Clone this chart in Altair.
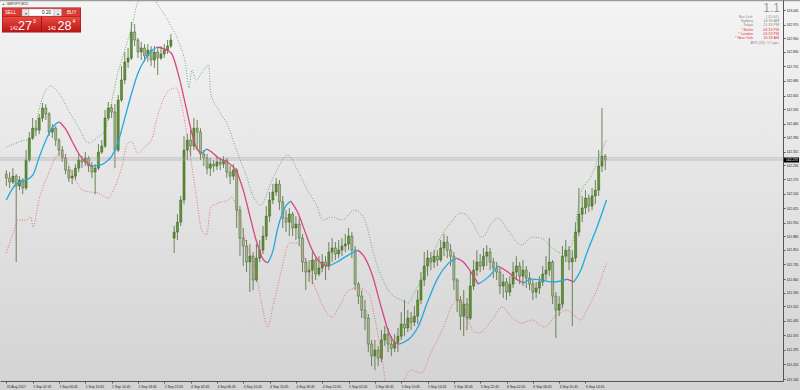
import altair as alt
import pandas as pd

# ---------------- data (GBPJPY M15, one candle per 30 min) ----------------
closes = [142.180,142.160,142.190,142.139,142.170,142.129,142.273,142.386,142.437,142.427,
          142.489,142.541,142.510,142.417,142.437,142.376,142.324,142.283,142.221,142.180,
          142.190,142.231,142.273,142.263,142.283,142.242,142.211,142.231,142.314,142.345,
          142.489,142.541,142.520,142.324,142.582,142.685,142.778,142.798,142.932,142.891,
          142.829,142.850,142.809,142.839,142.788,142.829,142.798,142.819,142.839,142.860,
          142.891,141.902,141.953,142.067,142.324,142.376,142.345,142.437,142.417,142.304,
          142.283,142.231,142.252,142.242,142.263,142.252,142.273,142.211,142.190,142.221,
          142.015,141.871,141.830,141.748,141.778,141.655,141.768,141.809,141.881,141.984,
          142.067,142.108,142.149,142.057,141.974,141.953,141.994,141.923,141.943,141.871,
          141.748,141.696,141.706,141.758,141.686,141.717,141.748,141.727,141.799,141.820,
          141.789,141.809,141.830,141.840,141.881,141.809,141.634,141.572,141.500,141.459,
          141.325,141.264,141.294,141.253,141.346,141.376,141.325,141.304,141.335,141.366,
          141.428,141.408,141.459,141.438,141.469,141.552,141.655,141.727,141.768,141.748,
          141.778,141.758,141.820,141.850,141.809,141.778,141.655,141.552,141.469,141.531,
          141.459,141.624,141.706,141.748,141.727,141.778,141.799,141.748,141.717,141.696,
          141.624,141.645,141.593,141.634,141.696,141.727,141.675,141.706,141.665,141.634,
          141.593,141.614,141.645,141.686,141.706,141.748,141.572,141.500,141.531,141.778,
          141.809,141.748,141.768,141.902,141.994,142.026,142.077,142.036,142.088,142.118,
          142.242,142.293,142.273]
highs = [142.221,142.211,142.231,142.200,142.190,142.180,142.324,142.417,142.489,142.479,
         142.510,142.567,142.561,142.520,142.458,142.448,142.386,142.345,142.304,142.242,
         142.221,142.252,142.304,142.293,142.314,142.293,142.263,142.252,142.355,142.376,
         142.530,142.572,142.561,142.561,142.608,142.757,142.829,142.850,142.984,142.973,
         142.901,142.881,142.870,142.870,142.860,142.860,142.850,142.860,142.870,142.891,
         142.922,141.933,141.994,142.088,142.396,142.407,142.427,142.489,142.479,142.437,
         142.324,142.304,142.283,142.273,142.293,142.283,142.293,142.283,142.242,142.252,
         142.231,142.036,141.923,141.861,141.840,141.799,141.840,141.861,141.933,142.036,
         142.108,142.149,142.180,142.170,142.088,142.015,142.026,142.005,141.984,141.974,
         141.892,141.768,141.758,141.799,141.768,141.778,141.789,141.778,141.850,141.871,
         141.850,141.861,141.871,141.892,141.923,141.902,141.830,141.645,141.603,141.552,
         141.480,141.346,141.346,141.315,141.397,141.418,141.408,141.366,141.376,141.408,
         141.490,141.552,141.500,141.490,141.521,141.603,141.696,141.799,141.809,141.799,
         141.809,141.809,141.861,141.892,141.881,141.840,141.799,141.665,141.572,141.603,
         141.562,141.696,141.758,141.809,141.789,141.820,141.835,141.820,141.768,141.748,
         141.717,141.686,141.665,141.675,141.748,141.778,141.748,141.758,141.727,141.696,
         141.655,141.645,141.675,141.727,141.778,141.871,141.758,141.593,141.572,141.830,
         141.861,141.830,141.809,141.953,142.129,142.088,142.118,142.097,142.129,142.170,
         142.324,142.541,142.304]
lows = [142.139,142.129,142.149,141.748,142.118,142.097,142.118,142.263,142.376,142.396,
        142.406,142.469,142.479,142.396,142.386,142.345,142.293,142.263,142.200,142.160,
        142.149,142.170,142.211,142.231,142.242,142.211,142.180,142.097,142.221,142.304,
        142.335,142.479,142.489,142.231,142.314,142.572,142.664,142.747,142.788,142.860,
        142.798,142.788,142.778,142.778,142.757,142.747,142.711,142.788,142.798,142.819,
        142.850,141.794,141.861,141.933,142.046,142.273,142.293,142.324,142.324,142.273,
        142.242,142.200,142.190,142.211,142.221,142.221,142.231,142.180,142.149,142.170,
        141.923,141.778,141.727,141.696,141.593,141.603,141.645,141.748,141.789,141.861,
        141.953,142.046,142.088,142.015,141.923,141.902,141.881,141.881,141.861,141.830,
        141.696,141.603,141.645,141.634,141.655,141.675,141.696,141.655,141.706,141.748,
        141.758,141.768,141.778,141.799,141.809,141.768,141.603,141.531,141.459,141.397,
        141.284,141.212,141.191,141.212,141.232,141.315,141.284,141.263,141.284,141.284,
        141.346,141.366,141.387,141.397,141.418,141.428,141.531,141.624,141.675,141.706,
        141.717,141.727,141.748,141.778,141.768,141.727,141.603,141.490,141.397,141.366,
        141.397,141.449,141.603,141.675,141.696,141.706,141.727,141.706,141.665,141.655,
        141.583,141.562,141.552,141.572,141.614,141.655,141.634,141.624,141.614,141.603,
        141.552,141.562,141.583,141.624,141.655,141.675,141.531,141.356,141.469,141.510,
        141.748,141.706,141.418,141.748,141.881,141.953,141.994,142.005,142.015,142.046,
        142.088,142.211,142.221]
gap_opens = {0: 142.200, 51: 141.871}   # first bar and Monday gap; other opens = previous close

# moving average (colour by segment: b = rising/blue, p = falling/pink)
ma_k = [0.0,3.0,6.0,8.1,9.9,12.9,15.0, 16.2,18.0,20.1,21.9,24.0,
        26.1,28.5,30.3,32.1,33.9,36.0,38.1,39.9,42.0,44.1,
        45.9,48.0,50.1,52.5,54.6,56.4,57.9, 59.4,
        60.9,62.4,64.5,67.5,69.9,72.0,74.1,75.9,78.0,
        79.5,81.0,82.5,84.6, 86.4,88.5,90.6,92.4,94.5,96.6,
        98.1,100.5,102.9,105.0, 106.8,108.6,111.0,114.0,116.1,117.9,
        119.4,121.5,123.0,125.1,128.1,131.1,134.1, 136.8,138.9,141.0,
        143.4,146.4, 149.4,152.4,155.4, 157.2,159.6,162.6,165.6,168.6,
        170.4, 172.5,174.6,176.4,179.4,182.4]
ma_p = [142.067,142.149,142.170,142.196,142.283,142.407,142.458,
        142.469,142.433,142.366,142.309,142.263,
        142.242,142.247,142.263,142.294,142.361,142.489,142.618,142.716,142.788,142.834,
        142.855,142.845,142.824,142.700,142.546,142.412,142.330,
        142.309,
        142.330,142.314,142.283,142.258,142.216,142.118,141.979,141.861,141.763,
        141.743,141.804,141.923,142.026,
        142.062,142.005,141.912,141.830,141.763,141.732,
        141.727,141.748,141.773,141.794,
        141.809,141.779,141.691,141.511,141.392,141.336,
        141.325,141.341,141.361,141.413,141.547,141.665,141.737,
        141.768,141.748,141.701,
        141.634,141.670,
        141.727,141.696,141.655,
        141.640,141.660,141.655,141.645,141.650,
        141.660,
        141.645,141.706,141.794,141.923,142.067]
ma_col = ("b" * 7 + "p" * 5 + "b" * 10 + "p" * 7 + "b" * 1 + "p" * 9 + "b" * 4 + "p" * 6 +
          "b" * 4 + "p" * 6 + "b" * 7 + "p" * 3 + "b" * 2 + "p" * 3 + "b" * 5 + "p" * 1 + "b" * 5)

up_k = [0.0,3.9,8.1,9.9,12.0,13.5,15.9,18.9,21.9,24.9,27.9,30.0,32.1,33.9,36.0,38.1,39.9,42.9,46.5,49.5,
        52.5,54.6,55.5,56.4,57.6,59.4,61.5,62.1,64.5,67.5,69.6,72.6,75.6,77.4,80.4,83.4,85.5,88.5,91.5,94.5,
        96.0,99.0,102.0,105.9,108.9,111.9,116.1,120.0,122.1,123.9,128.1,132.0,135.0,138.0,139.8,141.6,144.6,147.6,149.4,152.4,
        156.6,159.6,162.6,165.6,168.6,171.6,174.6,177.6,180.6,182.4]
up_p = [142.340,142.366,142.391,142.530,142.633,142.654,142.618,142.530,142.443,142.361,
        142.391,142.427,142.582,142.721,142.839,142.958,143.082,143.138,143.061,142.979,
        142.876,142.752,142.644,142.737,142.685,142.721,142.762,142.618,142.530,142.443,
        142.340,142.206,142.067,142.041,142.155,142.258,142.299,142.221,142.118,142.031,
        141.964,141.979,141.964,142.015,141.964,141.773,141.603,141.552,141.537,141.588,
        141.722,141.876,141.949,142.000,141.990,141.949,141.876,141.949,141.974,141.912,
        141.835,141.876,141.871,141.825,141.794,141.825,142.103,142.185,142.309,142.376]
lo_k = [0.0,2.1,3.6,6.0,7.5,8.1,9.9,12.9,15.0,16.5,18.6,21.0,23.1,25.5,27.9,30.9,33.0,35.1,36.9,38.1,
        39.9,42.0,44.1,45.9,48.0,49.5,51.6,53.4,55.5,57.6,59.4,60.9,62.1,64.5,67.5,68.4,70.5,72.9,75.6,77.4,
        79.5,81.0,83.4,86.1,88.5,91.5,94.5,96.9,99.0,101.1,104.1,107.1,110.1,111.9,114.0,115.5,118.5,120.9,123.0,126.0,
        129.0,132.9,135.9,138.0,139.8,141.6,143.4,147.6,150.6,153.6,156.6,159.6,163.5,166.5,170.4,172.5,174.6,176.4,179.4,182.4]
lo_p = [141.794,141.897,141.964,141.964,141.979,141.928,142.067,142.206,142.288,142.309,
        142.258,142.170,142.118,142.108,142.103,142.077,142.134,142.237,142.361,142.366,
        142.309,142.340,142.376,142.494,142.597,142.633,142.644,142.546,142.340,142.103,
        141.912,141.887,142.031,142.052,142.067,142.082,142.000,141.846,141.722,141.552,
        141.413,141.516,141.691,141.846,141.846,141.722,141.588,141.500,141.464,141.516,
        141.603,141.614,141.588,141.464,141.279,141.114,141.063,141.140,141.191,141.176,
        141.279,141.413,141.536,141.552,141.485,141.397,141.382,141.449,141.516,141.464,
        141.433,141.449,141.413,141.464,141.500,141.474,141.449,141.500,141.603,141.742]

tick_labels = ["31 Aug 2017", "1 Sep 02:45", "1 Sep 06:45", "1 Sep 10:45", "1 Sep 14:45",
               "1 Sep 18:45", "1 Sep 22:45", "4 Sep 02:45", "4 Sep 06:45", "4 Sep 10:45",
               "4 Sep 14:45", "4 Sep 18:45", "4 Sep 22:45", "5 Sep 02:45", "5 Sep 06:45",
               "5 Sep 10:45", "5 Sep 14:45", "5 Sep 18:45", "5 Sep 22:45", "6 Sep 02:45",
               "6 Sep 06:45", "6 Sep 10:45", "6 Sep 14:45"]
tick_k = [8 * i for i in range(len(tick_labels))]
price_ticks = [143.045, 142.970, 142.900, 142.830, 142.755, 142.680, 142.605, 142.535, 142.460,
               142.390, 142.315, 142.245, 142.175, 142.100, 142.025, 141.950, 141.880, 141.810,
               141.735, 141.660, 141.590, 141.520, 141.445, 141.370, 141.295, 141.220, 141.145]
bid, ask = 142.273, 142.284

info_labels = ["Bar Left:", "Sydney", "Tokyo", "* Berlin", "* London", "* New York"]
info_values = ["[ 11:04 ]", "10:33 AM", "11:33 PM", "04:33 PM", "03:33 PM", "10:33 AM"]

# ---------------- build tables ----------------
n = len(closes)
assert len(highs) == n and len(lows) == n
assert len(ma_k) == len(ma_p) == len(ma_col)
assert len(up_k) == len(up_p) and len(lo_k) == len(lo_p)
opens = [gap_opens.get(i, closes[i - 1] if i else closes[0]) for i in range(n)]
cdf = pd.DataFrame({"k": list(range(n)), "o": opens, "c": closes, "h": highs, "l": lows})
cdf["h"] = cdf[["h", "o", "c"]].max(axis=1)
cdf["l"] = cdf[["l", "o", "c"]].min(axis=1)
cdf["dir"] = ["up" if c >= o else "dn" for o, c in zip(cdf["o"], cdf["c"])]

rows = []
seg = 0
start = 0
for i in range(1, len(ma_k)):
    if i == len(ma_k) - 1 or ma_col[i] != ma_col[start]:
        for j in range(start, i + 1):
            rows.append({"k": ma_k[j], "p": ma_p[j], "seg": seg, "col": ma_col[start]})
        seg += 1
        start = i
madf = pd.DataFrame(rows)
updf = pd.DataFrame({"k": up_k, "p": up_p})
lodf = pd.DataFrame({"k": lo_k, "p": lo_p})

W, H = 783, 381
xs = alt.Scale(domain=[-0.4, 234.5], nice=False, zero=False)
ys = alt.Scale(domain=[141.135, 143.097], nice=False, zero=False)
FONT = "Liberation Sans"

label_expr = "[" + ",".join("'%s'" % s for s in tick_labels) + "][round(datum.value/8)]"
xaxis = alt.Axis(values=tick_k, labelExpr=label_expr, orient="bottom", labelAlign="left",
                 labelFontSize=3.4, labelColor="#222", labelFont=FONT, tickSize=2,
                 tickColor="#555", domainColor="#555", domainWidth=1, grid=False, title=None,
                 labelPadding=1.2, labelOverlap=False, labelFlush=False, labelBound=False, zindex=2)
yaxis = alt.Axis(orient="right", values=price_ticks, format=".3f", labelFontSize=3.3,
                 labelColor="#222", labelFont=FONT, tickSize=2, tickColor="#555",
                 domainColor="#555", domainWidth=1, grid=False, title=None, labelPadding=1,
                 labelOverlap=False, labelBaseline="middle", labelBound=False, zindex=2)

one = pd.DataFrame({"a": [0]})


def txt(s, x, y, size=4.5, color="#888", align="left", weight="normal"):
    return alt.Chart(one).mark_text(text=s, align=align, baseline="alphabetic", fontSize=size,
                                    color=color, fontWeight=weight, font=FONT).encode(
        x=alt.value(x), y=alt.value(y))


def box(x, y, x2, y2, fill, stroke=None, sw=0.5):
    kw = {"fill": fill}
    if stroke:
        kw.update(stroke=stroke, strokeWidth=sw)
    return alt.Chart(one).mark_rect(**kw).encode(
        x=alt.value(x), x2=alt.value(x2), y=alt.value(y), y2=alt.value(y2))


bg = alt.Chart(one).mark_rect(
    fill=alt.Gradient(gradient="linear", x1=0, x2=0, y1=0, y2=1,
                      stops=[alt.GradientStop(color="#f4f4f4", offset=0),
                             alt.GradientStop(color="#d3d3d3", offset=1)])).encode(
    x=alt.value(0), x2=alt.value(800), y=alt.value(0), y2=alt.value(390))

topline = box(0, 0, 800, 1.2, "#9a9a9a")

X = lambda f: alt.X(f, scale=xs, axis=xaxis)
Y = lambda f: alt.Y(f, scale=ys, axis=yaxis)

pricelines = alt.Chart(pd.DataFrame({"p": [bid, ask]})).mark_rule(
    color="#a2a2a2", strokeWidth=0.6).encode(y=Y("p:Q"))

wicks = alt.Chart(cdf).mark_rule(color="#3b5a1e", strokeWidth=0.7, clip=True).encode(
    x=X("k:Q"), y=Y("l:Q"), y2="h:Q")

bodies = alt.Chart(cdf).mark_bar(size=2.1, stroke="#2c4712", strokeWidth=0.4, clip=True).encode(
    x=X("k:Q"), y=Y("o:Q"), y2="c:Q",
    fill=alt.Fill("dir:N", scale=alt.Scale(domain=["up", "dn"], range=["#5f9431", "#a6b890"]),
                  legend=None))

upper = alt.Chart(updf).mark_line(color="#4e9a52", strokeWidth=0.8, strokeDash=[1, 1.6],
                                  interpolate="monotone", clip=True).encode(
    x=X("k:Q"), y=Y("p:Q"))
lower = alt.Chart(lodf).mark_line(color="#e4545a", strokeWidth=0.8, strokeDash=[1, 1.6],
                                  interpolate="monotone", clip=True).encode(
    x=X("k:Q"), y=Y("p:Q"))

ma = alt.Chart(madf).mark_line(strokeWidth=1.3, interpolate="monotone", clip=True).encode(
    x=X("k:Q"), y=Y("p:Q"),
    color=alt.Color("col:N", scale=alt.Scale(domain=["b", "p"], range=["#22a8e0", "#d8477c"]),
                    legend=None),
    detail="seg:N")

pdf = pd.DataFrame({"p": [bid], "lab": ["%.3f" % bid]})
plabel_bg = alt.Chart(pdf).mark_tick(orient="horizontal", size=15, thickness=5,
                                      color="#000000", opacity=1).encode(
    x=alt.value(791.5), y=Y("p:Q"))
plabel = alt.Chart(pdf).mark_text(align="left", baseline="middle", color="white",
                                  fontSize=3.3, font=FONT).encode(
    x=alt.value(786), y=Y("p:Q"), text="lab:N")

# top-left one-click trading panel
redgrad = alt.Gradient(gradient="linear", x1=0, x2=0, y1=0, y2=1,
                       stops=[alt.GradientStop(color="#ea4a40", offset=0),
                              alt.GradientStop(color="#b81616", offset=1)])
panel = [
    txt("▲", 2, 4.5, size=3, color="#444"),
    txt("GBPJPY,M15", 6.5, 4.6, size=3.6, color="#333"),
    box(2, 7.5, 81, 32.5, "#a01010"),
    box(2.5, 8, 80.5, 16.5, "#d83a34"),
    box(22, 9, 29, 16, "#e6e6e6", "#999", 0.4),
    box(29, 9, 54, 16, "#ffffff", "#999", 0.4),
    box(54, 9, 61.5, 16, "#e6e6e6", "#999", 0.4),
    txt("▾", 25.5, 14.5, size=4, color="#555", align="center"),
    txt("▴", 57.7, 14.5, size=4, color="#555", align="center"),
    txt("0.20", 51, 14.4, size=4.6, color="#222", align="right"),
    txt("SELL", 5, 14.4, size=4.6, color="#ffffff"),
    txt("BUY", 67, 14.4, size=4.6, color="#ffffff"),
    alt.Chart(one).mark_rect(fill=redgrad).encode(x=alt.value(2.5), x2=alt.value(41),
                                                  y=alt.value(17), y2=alt.value(32)),
    alt.Chart(one).mark_rect(fill=redgrad).encode(x=alt.value(42), x2=alt.value(80.5),
                                                  y=alt.value(17), y2=alt.value(32)),
    txt("142", 10, 29.5, size=4.8, color="#ffffff"),
    txt("27", 18, 30, size=12.5, color="#ffffff"),
    txt("3", 33, 22.5, size=5, color="#ffffff"),
    txt("142", 48, 29.5, size=4.8, color="#ffffff"),
    txt("28", 57.5, 30, size=12.5, color="#ffffff"),
    txt("4", 72.5, 22.5, size=5, color="#ffffff"),
]

# top-right info block
info = [txt("1.1", 780, 12.3, size=12, color="#9a9a9a", align="right")]
ys_rows = [17.8, 22.1, 26.4, 30.7, 35.0, 39.3]
for i, (lab, val) in enumerate(zip(info_labels, info_values)):
    col = "#e23a3a" if lab.startswith("*") else "#8a8a8a"
    info.append(txt(lab, 753, ys_rows[i], size=3.7, color=col, align="right"))
    info.append(txt(val, 779, ys_rows[i], size=3.7, color=col, align="right"))
info.append(txt("ATR (20): 17 pips", 779, 43.7, size=3.7, color="#8a8a8a", align="right"))

chart = alt.layer(
    bg, topline, wicks, bodies, pricelines, upper, lower, ma, plabel_bg, plabel, *panel, *info
).properties(
    width=W, height=H,
    autosize=alt.AutoSizeParams(type="none"),
    padding={"left": 0, "top": 0, "right": 17, "bottom": 9},
    background="#dcdcdc",
).configure_view(stroke=None)

chart.save("out.html", embed_options={"renderer": "svg", "actions": False})
